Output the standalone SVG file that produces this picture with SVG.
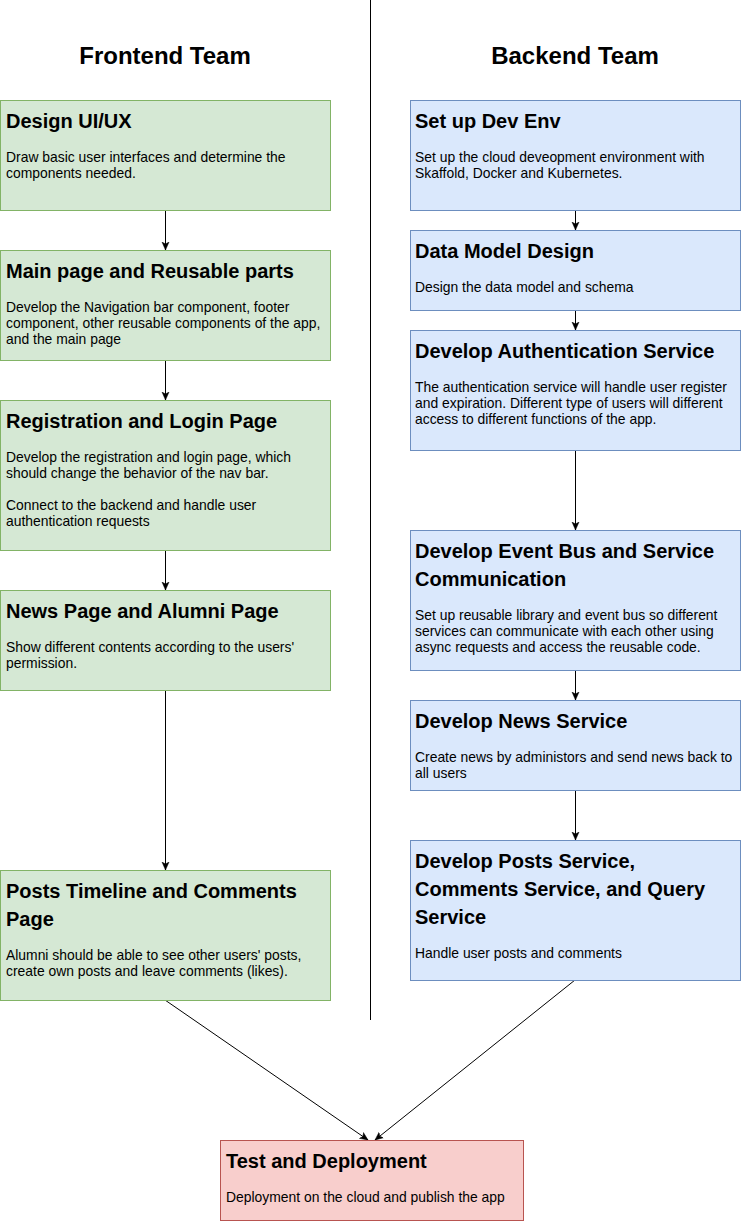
<svg xmlns="http://www.w3.org/2000/svg" width="741" height="1221" viewBox="0 0 741 1221">
<style>
.hdr{font-family:"Liberation Sans",Arial,sans-serif;font-size:24px;font-weight:bold;fill:#000;text-anchor:middle}
.t{font-family:"Liberation Sans",Arial,sans-serif;font-size:20px;font-weight:bold;fill:#000}
.b{font-family:"Liberation Sans",Arial,sans-serif;font-size:13.9px;fill:#000}
.g{fill:#d5e8d4;stroke:#82b366;stroke-width:1}
.bl{fill:#dae8fc;stroke:#6c8ebf;stroke-width:1}
.r{fill:#f8cecc;stroke:#b85450;stroke-width:1}
.e{fill:none;stroke:#000;stroke-width:1}
</style>
<defs>
<marker id="arr" markerUnits="userSpaceOnUse" markerWidth="10" markerHeight="10" refX="8" refY="4" orient="auto" viewBox="0 0 10 8">
<path d="M0,0.5 L8,4 L0,7.5 L2,4 Z" fill="#000" stroke="#000" stroke-width="0.5"/>
</marker>
</defs>
<rect width="741" height="1221" fill="#fff"/>
<g id="divider"><line x1="370.5" y1="0" x2="370.5" y2="1020" stroke="#000" stroke-width="1"/></g>
<g id="headers">
<text class="hdr" x="165" y="64">Frontend Team</text>
<text class="hdr" x="575" y="64">Backend Team</text>
</g>
<g id="connectors">
<line class="e" x1="165.5" y1="210" x2="165.5" y2="250" marker-end="url(#arr)"/>
<line class="e" x1="165.5" y1="360" x2="165.5" y2="400" marker-end="url(#arr)"/>
<line class="e" x1="165.5" y1="550" x2="165.5" y2="590" marker-end="url(#arr)"/>
<line class="e" x1="165.5" y1="690" x2="165.5" y2="870" marker-end="url(#arr)"/>
<line class="e" x1="575.5" y1="210" x2="575.5" y2="230" marker-end="url(#arr)"/>
<line class="e" x1="575.5" y1="310" x2="575.5" y2="330" marker-end="url(#arr)"/>
<line class="e" x1="575.5" y1="450" x2="575.5" y2="530" marker-end="url(#arr)"/>
<line class="e" x1="575.5" y1="670" x2="575.5" y2="700" marker-end="url(#arr)"/>
<line class="e" x1="575.5" y1="790" x2="575.5" y2="840" marker-end="url(#arr)"/>
<line class="e" x1="165" y1="1000" x2="368" y2="1140" marker-end="url(#arr)"/>
<line class="e" x1="575" y1="980" x2="375" y2="1140" marker-end="url(#arr)"/>
</g>
<g id="design-ui">
<rect class="g" x="0.5" y="100.5" width="330" height="110"/>
<text class="t" x="6" y="128">Design UI/UX</text>
<text class="b" x="6" y="162">Draw basic user interfaces and determine the</text>
<text class="b" x="6" y="178">components needed.</text>
</g>
<g id="main-page">
<rect class="g" x="0.5" y="250.5" width="330" height="110"/>
<text class="t" x="6" y="278">Main page and Reusable parts</text>
<text class="b" x="6" y="312">Develop the Navigation bar component, footer</text>
<text class="b" x="6" y="328">component, other reusable components of the app,</text>
<text class="b" x="6" y="344">and the main page</text>
</g>
<g id="registration">
<rect class="g" x="0.5" y="400.5" width="330" height="150"/>
<text class="t" x="6" y="428">Registration and Login Page</text>
<text class="b" x="6" y="462">Develop the registration and login page, which</text>
<text class="b" x="6" y="478">should change the behavior of the nav bar.</text>
<text class="b" x="6" y="510">Connect to the backend and handle user</text>
<text class="b" x="6" y="526">authentication requests</text>
</g>
<g id="news-page">
<rect class="g" x="0.5" y="590.5" width="330" height="100"/>
<text class="t" x="6" y="618">News Page and Alumni Page</text>
<text class="b" x="6" y="652">Show different contents according to the users'</text>
<text class="b" x="6" y="668">permission.</text>
</g>
<g id="posts-timeline">
<rect class="g" x="0.5" y="870.5" width="330" height="130"/>
<text class="t" x="6" y="898">Posts Timeline and Comments</text>
<text class="t" x="6" y="926">Page</text>
<text class="b" x="6" y="960">Alumni should be able to see other users' posts,</text>
<text class="b" x="6" y="976">create own posts and leave comments (likes).</text>
</g>
<g id="dev-env">
<rect class="bl" x="410.5" y="100.5" width="330" height="110"/>
<text class="t" x="415" y="128">Set up Dev Env</text>
<text class="b" x="415" y="162">Set up the cloud deveopment environment with</text>
<text class="b" x="415" y="178">Skaffold, Docker and Kubernetes.</text>
</g>
<g id="data-model">
<rect class="bl" x="410.5" y="230.5" width="330" height="80"/>
<text class="t" x="415" y="258">Data Model Design</text>
<text class="b" x="415" y="292">Design the data model and schema</text>
</g>
<g id="auth-service">
<rect class="bl" x="410.5" y="330.5" width="330" height="120"/>
<text class="t" x="415" y="358">Develop Authentication Service</text>
<text class="b" x="415" y="392">The authentication service will handle user register</text>
<text class="b" x="415" y="408">and expiration. Different type of users will different</text>
<text class="b" x="415" y="424">access to different functions of the app.</text>
</g>
<g id="event-bus">
<rect class="bl" x="410.5" y="530.5" width="330" height="140"/>
<text class="t" x="415" y="558">Develop Event Bus and Service</text>
<text class="t" x="415" y="586">Communication</text>
<text class="b" x="415" y="620">Set up reusable library and event bus so different</text>
<text class="b" x="415" y="636">services can communicate with each other using</text>
<text class="b" x="415" y="652">async requests and access the reusable code.</text>
</g>
<g id="news-service">
<rect class="bl" x="410.5" y="700.5" width="330" height="90"/>
<text class="t" x="415" y="728">Develop News Service</text>
<text class="b" x="415" y="762">Create news by administors and send news back to</text>
<text class="b" x="415" y="778">all users</text>
</g>
<g id="posts-service">
<rect class="bl" x="410.5" y="840.5" width="330" height="140"/>
<text class="t" x="415" y="868">Develop Posts Service,</text>
<text class="t" x="415" y="896">Comments Service, and Query</text>
<text class="t" x="415" y="924">Service</text>
<text class="b" x="415" y="958">Handle user posts and comments</text>
</g>
<g id="test-deploy">
<rect class="r" x="220.5" y="1140.5" width="303" height="80"/>
<text class="t" x="226" y="1168">Test and Deployment</text>
<text class="b" x="226" y="1202">Deployment on the cloud and publish the app</text>
</g>
</svg>
